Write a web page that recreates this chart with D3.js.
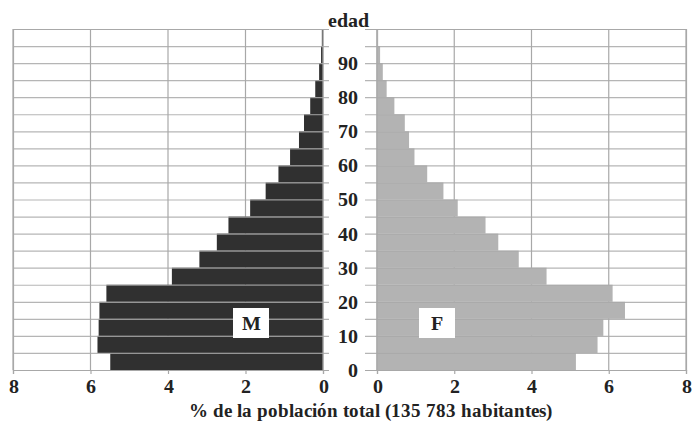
<!DOCTYPE html>
<html><head><meta charset="utf-8">
<script src="https://cdn.jsdelivr.net/npm/d3@7"></script>
<style>
@font-face{font-family:"ChartSerif";src:local("Liberation Serif Bold"),local("LiberationSerif-Bold"),local("Tinos Bold");font-weight:bold;}
body{margin:0;background:#fff}
#c text.t{font-family:"ChartSerif","Liberation Serif",Tinos,serif;font-weight:bold;fill:#222}
</style>
</head><body><svg id="c" width="696" height="422"></svg>
<script>
// age groups (start age of each 5-year group)
const ageStarts = [0,5,10,15,20,25,30,35,40,45,50,55,60,65,70,75,80,85,90,95];
// % of total population, men
const male =   [5.49,5.82,5.79,5.77,5.59,3.90,3.19,2.74,2.44,1.88,1.48,1.15,0.85,0.62,0.49,0.33,0.20,0.10,0.05,0.03];
// % of total population, women
const female = [5.15,5.71,5.86,6.42,6.10,4.39,3.67,3.14,2.81,2.09,1.72,1.30,0.97,0.83,0.72,0.45,0.25,0.15,0.08,0.03];
const xTicks = [0,2,4,6,8];
const ageLabels = [0,10,20,30,40,50,60,70,80,90];
const ageTicks = d3.range(0,101,5);
const axisTitle = "% de la población total (135 783 habitantes)";
const yTitle = "edad";
const labM = "M", labF = "F";

const svg = d3.select("#c");
const gridCol = "#a8a8a8";
function txt(sel,size){
  return sel.attr("class","t").attr("font-family",null).style("font-size",size+"px");
}

const xL = d3.scaleLinear().domain([0,8]).range([323,13]);
const xR = d3.scaleLinear().domain([0,8]).range([377,686]);
const y = d3.scaleLinear().domain([0,100]).range([370,29]);

// vertical grid lines
function vgrid(x){
  svg.append("g").selectAll("line").data(xTicks).join("line")
    .attr("x1",d=>x(d)).attr("x2",d=>x(d)).attr("y1",y(100)).attr("y2",y(0))
    .attr("stroke",gridCol).attr("stroke-width",1.2);
}
vgrid(xL); vgrid(xR);

const data = ageStarts.map((a,i)=>({a, m:male[i], f:female[i]}));

// bars
svg.append("g").selectAll("rect").data(data).join("rect")
  .attr("x",d=>xL(d.m)).attr("width",d=>xL(0)-xL(d.m))
  .attr("y",d=>y(d.a+5)).attr("height",d=>y(d.a)-y(d.a+5))
  .attr("fill","#303030");
svg.append("g").selectAll("rect").data(data).join("rect")
  .attr("x",xR(0)).attr("width",d=>xR(d.f)-xR(0))
  .attr("y",d=>y(d.a+5)).attr("height",d=>y(d.a)-y(d.a+5))
  .attr("fill","#b3b3b3");

// horizontal grid lines (over the bars) via axes
const gl = svg.append("g").attr("transform",`translate(${xL(8)},0)`)
  .call(d3.axisRight(y).tickValues(ageTicks).tickSize(329-xL(8)).tickFormat(""));
const gr = svg.append("g").attr("transform",`translate(${xR(8)},0)`)
  .call(d3.axisLeft(y).tickValues(ageTicks).tickSize(xR(8)-365).tickFormat(""));
[gl,gr].forEach(g=>{
  g.select(".domain").attr("stroke",gridCol).attr("stroke-width",1.2);
  g.selectAll(".tick line").attr("stroke",gridCol).attr("stroke-width",1.2).attr("opacity",0.85);
});
// zero lines
svg.append("line").attr("x1",xL(0)).attr("x2",xL(0)).attr("y1",y(100)).attr("y2",y(0)).attr("stroke",gridCol).attr("stroke-width",1.2);
svg.append("line").attr("x1",xR(0)).attr("x2",xR(0)).attr("y1",y(100)).attr("y2",y(0)).attr("stroke",gridCol).attr("stroke-width",1.2);

// age labels
const ga = svg.append("g").attr("transform",`translate(365,0)`)
  .call(d3.axisLeft(y).tickValues(ageLabels).tickSize(0).tickPadding(7));
ga.select(".domain").remove();
ga.attr("font-family",null);
txt(ga.selectAll("text"),20);

// bottom axes
function xaxis(x){
  const g = svg.append("g").attr("transform",`translate(0,${y(0)})`)
    .call(d3.axisBottom(x).tickValues(xTicks).tickSize(4).tickPadding(5).tickFormat(d3.format("d")));
  g.attr("font-family",null);
  g.select(".domain").attr("stroke",gridCol).attr("stroke-width",1.2);
  g.selectAll(".tick line").attr("stroke",gridCol).attr("stroke-width",1.2);
  txt(g.selectAll("text"),20);
}
xaxis(xL); xaxis(xR);

// titles
txt(svg.append("text").attr("x",348).attr("y",27).attr("text-anchor","middle"),20).text(yTitle);
txt(svg.append("text").attr("x",370).attr("y",417).attr("text-anchor","middle"),19).text(axisTitle);

// sex labels
function lab(cx,t){
  svg.append("rect").attr("x",cx-18).attr("y",308).attr("width",36).attr("height",30).attr("fill","#fff");
  txt(svg.append("text").attr("x",cx).attr("y",330).attr("text-anchor","middle"),20).text(t);
}
lab(251,labM); lab(437,labF);
</script></body></html>
